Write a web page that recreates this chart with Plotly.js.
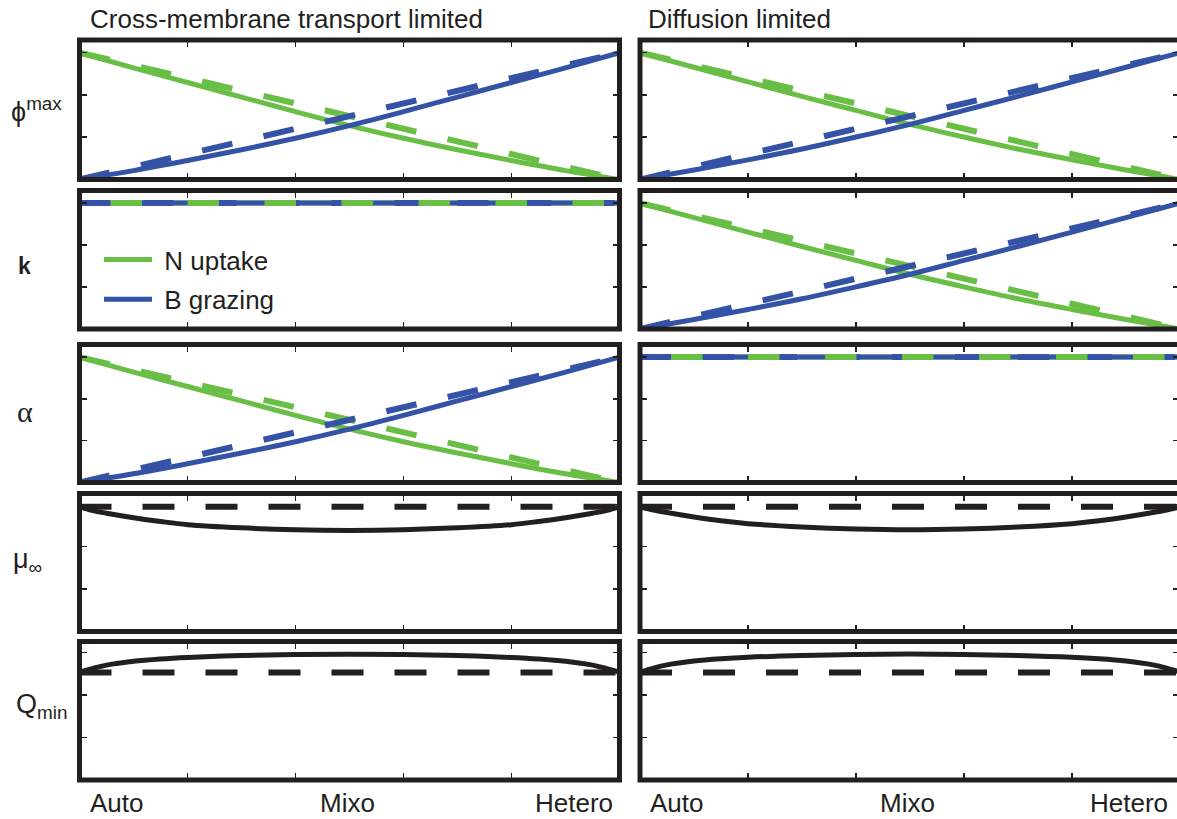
<!DOCTYPE html>
<html>
<head>
<meta charset="utf-8">
<script src="https://cdn.plot.ly/plotly-3.0.1.min.js"></script>
<style>
  html, body { margin: 0; padding: 0; overflow: hidden; background: #fff; }
  #chart { width: 1185px; height: 819px; }
</style>
</head>
<body>
<div id="chart"></div>
<script>
// ---------------- data ----------------
const regimeTitles = ['Cross-membrane transport limited', 'Diffusion limited'];
const traitLabels = ['\u03d5<sup>max</sup>', '<b>k</b>', '\u03b1', '\u03bc<sub>\u221e</sub>', 'Q<sub>min</sub>'];
const strategyTicks = ['Auto', 'Mixo', 'Hetero'];
const strategyTickPos = [0, 0.5, 1];
const seriesNames = ['N uptake', 'B grazing'];

// position along the Auto -> Hetero axis
const position = [0, 0.1, 0.2, 0.3, 0.4, 0.5, 0.6, 0.7, 0.8, 0.9, 1];
const nUptakeTransport = [1.0, 0.88, 0.765, 0.65, 0.535, 0.425, 0.325, 0.235, 0.15, 0.07, 0.0];
const bGrazingTransport = [0.0, 0.07, 0.15, 0.235, 0.325, 0.425, 0.535, 0.65, 0.765, 0.88, 1.0];
const nUptakeDiffusion = [1.0, 0.885, 0.77, 0.655, 0.545, 0.435, 0.335, 0.24, 0.155, 0.075, 0.0];
const bGrazingDiffusion = [0.0, 0.075, 0.155, 0.24, 0.335, 0.435, 0.545, 0.655, 0.77, 0.885, 1.0];

// linear (dashed) reference trade-offs and constant traits
const linearPos = [0, 1];
const nUptakeLinear = [1, 0];
const bGrazingLinear = [0, 1];
const constantTrait = [1, 1];

// growth rate and minimum quota
const growthPos = [0, 0.025, 0.05, 0.1, 0.15, 0.2, 0.3, 0.4, 0.5, 0.6, 0.7, 0.8, 0.85, 0.9, 0.95, 0.975, 1];
const muTransport = [0.98, 0.95, 0.93, 0.895, 0.865, 0.84, 0.815, 0.8, 0.795, 0.8, 0.815, 0.84, 0.865, 0.895, 0.93, 0.95, 0.98];
const muDiffusion = [0.98, 0.955, 0.935, 0.9, 0.87, 0.848, 0.822, 0.806, 0.8, 0.806, 0.822, 0.848, 0.87, 0.9, 0.935, 0.955, 0.98];
const muReference = [0.98, 0.98];
const qTransport = [0.845, 0.875, 0.9, 0.93, 0.948, 0.96, 0.975, 0.983, 0.986, 0.983, 0.975, 0.96, 0.948, 0.93, 0.9, 0.875, 0.845];
const qDiffusion = [0.845, 0.877, 0.902, 0.932, 0.95, 0.962, 0.976, 0.984, 0.987, 0.984, 0.976, 0.962, 0.95, 0.932, 0.902, 0.877, 0.845];
const qReference = [0.843, 0.843];

// ---------------- styling ----------------
const GREEN = '#69be45';
const BLUE = '#3453a6';
const BLACK = '#231f20';
const FONT = 'Liberation Sans, Arial, Helvetica, sans-serif';
const W = 1185, H = 819;
const colPx = [[79.5, 619.5], [640, 1180]];
const rowPx = [[40, 179.5], [190.5, 329], [344.5, 482.5], [493.5, 631.5], [641.5, 780]];
const DIAG_DASH = '31px,32px';
const FLAT_DASH = '0px,31px,31.5px,14.5px';
const BLACK_DASH = '32px,31px';

const traces = [];
function add(ax, x, y, color, dash, extra) {
  const dashed = !!dash;
  traces.push(Object.assign({
    type: 'scatter', mode: 'lines', x: x, y: y,
    xaxis: 'x' + ax, yaxis: 'y' + ax,
    line: { color: color, width: dashed ? 6 : 5, dash: dash || 'solid', shape: 'spline', smoothing: 1 },
    showlegend: false, hoverinfo: 'skip'
  }, extra || {}));
}
function curvedPanel(ax, g, b) {
  add(ax, position, g, GREEN);
  add(ax, position, b, BLUE);
  add(ax, linearPos, nUptakeLinear, GREEN, DIAG_DASH);
  add(ax, linearPos, bGrazingLinear, BLUE, DIAG_DASH);
}
function flatPanel(ax, legend) {
  add(ax, linearPos, constantTrait, GREEN, null,
      legend ? { showlegend: true, name: '\u00a0' + seriesNames[0], legendgroup: 'g1' } : {});
  add(ax, linearPos, constantTrait, BLUE, DIAG_DASH);
  add(ax, linearPos, constantTrait, BLUE, null,
      legend ? { showlegend: true, name: '\u00a0' + seriesNames[1], legendgroup: 'g2' } : {});
  add(ax, linearPos, constantTrait, GREEN, FLAT_DASH);
}
function blackPanel(ax, pos, y, ref) {
  add(ax, linearPos, ref, BLACK, BLACK_DASH);
  add(ax, pos, y, BLACK);
}

curvedPanel(1, nUptakeTransport, bGrazingTransport);
curvedPanel(2, nUptakeDiffusion, bGrazingDiffusion);
flatPanel(3, true);
curvedPanel(4, nUptakeDiffusion, bGrazingDiffusion);
curvedPanel(5, nUptakeTransport, bGrazingTransport);
flatPanel(6, false);
blackPanel(7, growthPos, muTransport, muReference);
blackPanel(8, growthPos, muDiffusion, muReference);
blackPanel(9, growthPos, qTransport, qReference);
blackPanel(10, growthPos, qDiffusion, qReference);

const layout = {
  width: W, height: H,
  margin: { l: 0, r: 0, t: 0, b: 0 },
  paper_bgcolor: '#fff', plot_bgcolor: '#fff',
  font: { family: FONT, color: BLACK, size: 26 },
  showlegend: true,
  legend: {
    x: 99 / W, y: 1 - 236 / H, xanchor: 'left', yanchor: 'top',
    bgcolor: 'rgba(0,0,0,0)', borderwidth: 0,
    font: { family: FONT, size: 26, color: BLACK },
    itemwidth: 48, tracegroupgap: 3
  },
  shapes: [], annotations: []
};

for (let r = 0; r < 5; r++) {
  for (let c = 0; c < 2; c++) {
    const i = r * 2 + c + 1;
    const yr = r < 3 ? [0, 1.1] : [0, 1.085];
    layout['xaxis' + i] = {
      domain: [colPx[c][0] / W, colPx[c][1] / W], range: [0, 1],
      anchor: 'y' + i, showgrid: false, zeroline: false, showticklabels: false,
      tickvals: [0.2, 0.4, 0.6, 0.8], ticks: 'inside', ticklen: 7, tickwidth: 1.5, tickcolor: BLACK,
      showline: true, linewidth: 1, linecolor: BLACK, mirror: 'ticks', fixedrange: true
    };
    layout['yaxis' + i] = {
      domain: [1 - rowPx[r][1] / H, 1 - rowPx[r][0] / H], range: yr,
      anchor: 'x' + i, showgrid: false, zeroline: false, showticklabels: false,
      tickvals: [1 / 3, 2 / 3, 1], ticks: 'inside', ticklen: 7, tickwidth: 1.5, tickcolor: BLACK,
      showline: true, linewidth: 1, linecolor: BLACK, mirror: 'ticks', fixedrange: true
    };
    layout.shapes.push({
      type: 'rect', xref: 'x' + i + ' domain', yref: 'y' + i + ' domain',
      x0: 0, x1: 1, y0: 0, y1: 1, layer: 'above',
      line: { color: BLACK, width: 5 }, fillcolor: 'rgba(0,0,0,0)'
    });
  }
}

// column titles
const titleLeftPx = [88, 646];
regimeTitles.forEach((t, c) => {
  layout.annotations.push({
    text: t, xref: 'paper', yref: 'paper', x: titleLeftPx[c] / W, y: 1 - 18.5 / H,
    xanchor: 'left', yanchor: 'middle', showarrow: false,
    font: { family: FONT, size: 26, color: BLACK }
  });
});

// row (trait) labels
const labelPx = [[9, 110], [16, 266], [15, 411], [11, 561], [14, 706]];
traitLabels.forEach((t, r) => {
  layout.annotations.push({
    text: t, xref: 'paper', yref: 'paper', x: labelPx[r][0] / W, y: 1 - labelPx[r][1] / H,
    xanchor: 'left', yanchor: 'middle', showarrow: false,
    font: {
      family: r === 2 ? 'Liberation Serif, Times New Roman, serif' : FONT,
      size: r === 1 ? 23 : (r === 2 ? 30 : 27), color: BLACK
    }
  });
});

// strategy tick labels under bottom row
const tickAnchor = ['left', 'center', 'right'];
const tickShift = [[8, -2, -5], [8, -2.5, -10]];
[9, 10].forEach((ax, c) => {
  strategyTicks.forEach((t, k) => {
    layout.annotations.push({
      text: t, xref: 'x' + ax, yref: 'paper', x: strategyTickPos[k], y: 1 - 802.5 / H,
      xanchor: tickAnchor[k], yanchor: 'middle', xshift: tickShift[c][k], showarrow: false,
      font: { family: FONT, size: 26, color: BLACK }
    });
  });
});

Plotly.newPlot('chart', traces, layout, { displayModeBar: false, staticPlot: true });
</script>
</body>
</html>
